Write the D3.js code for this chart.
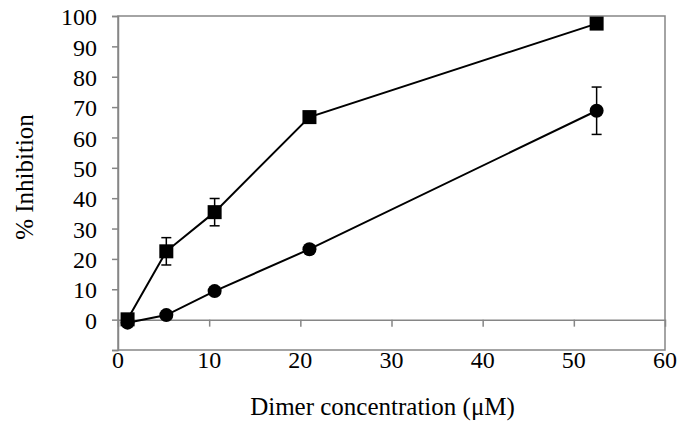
<!DOCTYPE html>
<html>
<head>
<meta charset="utf-8">
<script src="https://cdnjs.cloudflare.com/ajax/libs/d3/7.8.5/d3.min.js"></script>
<style>
  body { margin: 0; background: #fff; }
  text { font-family: "Liberation Serif", "Times New Roman", serif; fill: #000; }
</style>
</head>
<body>
<div id="chart"></div>
<script>

// data
var concentrations = [1.05, 5.3, 10.6, 21, 52.5];
var squareValues = [0.1, 22.5, 35.4, 66.7, 97.5];
var squareErrors = [0.5, 4.5, 4.5, 1.2, 1.0];
var circleValues = [-1.0, 1.5, 9.4, 23.2, 68.8];
var circleErrors = [0.5, 0.8, 0.8, 1.0, 7.8];
var xTicks = [0, 10, 20, 30, 40, 50, 60];
var yTicks = [0, 10, 20, 30, 40, 50, 60, 70, 80, 90, 100];

var attrs = {
  width: 685,
  height: 429,
  left: 118,
  right: 665,
  top: 16,
  bottom: 350,
  axisColor: '#868686',
  tickFont: 24,
  titleFont: 25,
  markerSize: 14,
  capWidth: 10
};

var svg = d3.select('#chart').append('svg')
  .attr('width', attrs.width)
  .attr('height', attrs.height);

var x = d3.scaleLinear().domain([0, 60]).range([attrs.left, attrs.right]);
var y = d3.scaleLinear().domain([-10, 100]).range([attrs.bottom, attrs.top]);

//plot frame
svg.append('rect')
  .attr('x', attrs.left).attr('y', attrs.top)
  .attr('width', attrs.right - attrs.left)
  .attr('height', attrs.bottom - attrs.top)
  .attr('fill', 'none')
  .attr('stroke', attrs.axisColor)
  .attr('stroke-width', 1.5);

// left axis, ticks outward, -10 tick unlabeled
var yAxis = svg.append('g')
  .attr('transform', 'translate(' + attrs.left + ',0)')
  .call(d3.axisLeft(y).tickValues([-10].concat(yTicks)).tickSize(6).tickPadding(15)
    .tickFormat(function (d) { return d < 0 ? '' : d; }));

// x axis crossing at y = 0, ticks down
var xAxis = svg.append('g')
  .attr('transform', 'translate(0,' + y(0) + ')')
  .call(d3.axisBottom(x).tickValues(xTicks.slice(1, -1)).tickSize(7).tickFormat(''));

[yAxis, xAxis].forEach(function (g) {
  g.select('.domain').attr('stroke', attrs.axisColor).attr('stroke-width', 1.5);
  g.selectAll('.tick line').attr('stroke', attrs.axisColor).attr('stroke-width', 1.5);
  g.selectAll('.tick text')
    .attr('font-size', attrs.tickFont)
    .attr('font-family', '"Liberation Serif", serif')
    .attr('fill', '#000');
});
yAxis.selectAll('.tick text').attr('dy', '0.36em');

// x tick labels sit under the frame
svg.append('g').selectAll('text')
  .data(xTicks)
  .join('text')
  .attr('x', function (d) { return x(d); })
  .attr('y', 368)
  .attr('text-anchor', 'middle')
  .attr('font-size', attrs.tickFont)
  .text(function (d) { return d; });

// titles
svg.append('text')
  .attr('x', (attrs.left + attrs.right) / 2 - 9)
  .attr('y', 415)
  .attr('text-anchor', 'middle')
  .attr('font-size', attrs.titleFont)
  .text('Dimer concentration (\u03bcM)');

svg.append('text')
  .attr('transform', 'translate(33,177) rotate(-90)')
  .attr('text-anchor', 'middle')
  .attr('font-size', attrs.titleFont)
  .text('% Inhibition');

// series
var series = [
  { name: 'circle', values: circleValues, errors: circleErrors },
  { name: 'square', values: squareValues, errors: squareErrors }
];

var line = d3.line()
  .x(function (d) { return x(d.x); })
  .y(function (d) { return y(d.y); });

series.forEach(function (s) {
  var pts = concentrations.map(function (c, i) {
    return { x: c, y: s.values[i], e: s.errors[i] };
  });
  var g = svg.append('g').attr('class', 'series-' + s.name);

  g.append('path')
    .datum(pts)
    .attr('d', line)
    .attr('fill', 'none')
    .attr('stroke', '#000')
    .attr('stroke-width', 2);

  // error bars
  var eb = g.selectAll('.err').data(pts).join('g').attr('class', 'err')
    .attr('stroke', '#000').attr('stroke-width', 1.5);
  eb.append('line')
    .attr('x1', function (d) { return x(d.x); })
    .attr('x2', function (d) { return x(d.x); })
    .attr('y1', function (d) { return y(d.y + d.e); })
    .attr('y2', function (d) { return y(d.y - d.e); });
  [1, -1].forEach(function (sign) {
    eb.append('line')
      .attr('x1', function (d) { return x(d.x) - attrs.capWidth / 2; })
      .attr('x2', function (d) { return x(d.x) + attrs.capWidth / 2; })
      .attr('y1', function (d) { return y(d.y + sign * d.e); })
      .attr('y2', function (d) { return y(d.y + sign * d.e); });
  });

  // markers
  if (s.name === 'square') {
    g.selectAll('rect').data(pts).join('rect')
      .attr('x', function (d) { return x(d.x) - attrs.markerSize / 2; })
      .attr('y', function (d) { return y(d.y) - attrs.markerSize / 2; })
      .attr('width', attrs.markerSize)
      .attr('height', attrs.markerSize)
      .attr('fill', '#000');
  } else {
    g.selectAll('circle').data(pts).join('circle')
      .attr('cx', function (d) { return x(d.x); })
      .attr('cy', function (d) { return y(d.y); })
      .attr('r', attrs.markerSize / 2)
      .attr('fill', '#000');
  }
});

</script>
</body>
</html>
